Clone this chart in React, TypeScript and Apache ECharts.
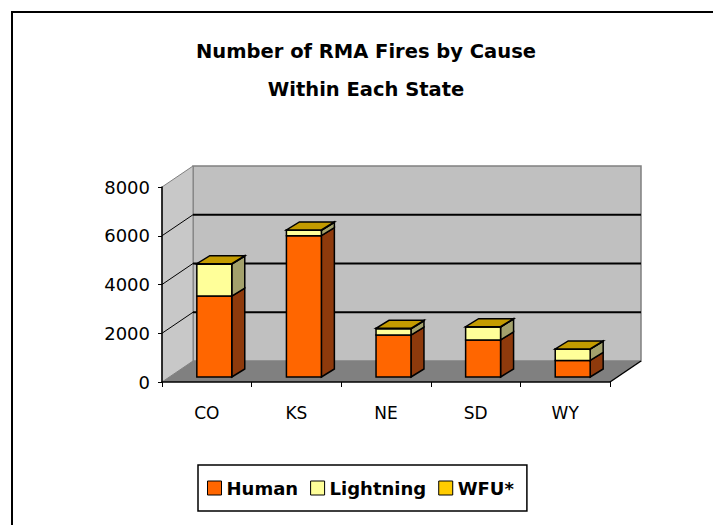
import React, { useEffect, useRef } from "react";
import * as echarts from "echarts";

const STATES = ["CO", "KS", "NE", "SD", "WY"];
const HUMAN = [3320, 5800, 1720, 1520, 680];
const LIGHTNING = [1310, 220, 260, 530, 460];
const WFU = [20, 15, 15, 15, 10];
const Y_TICKS = [0, 2000, 4000, 6000, 8000];
const SERIES_NAMES = ["Human", "Lightning", "WFU*"];
const SERIES_VALUES = [HUMAN, LIGHTNING, WFU];

const FACE = ["#FF6600", "#FFFF99", "#FFCC00"];
const SIDE = ["#8E3A0C", "#A3A16C", "#B08A00"];
const TOP = "#C39B00";

const FONT = "DejaVu Sans";
const WALL_DX = 31;
const WALL_DY = -21;
const BAR_DX = 13;
const BAR_DY = -8;
const BAR_SHIFT = 7.5;
const BAR_LIFT = 5;
const BAR_RATIO = 0.39;

function renderFrame(params: any, api: any) {
  const cs = params.coordSys;
  const x0 = cs.x;
  const x1 = cs.x + cs.width;
  const yT = cs.y;
  const yB = cs.y + cs.height;
  const children: any[] = [];
  children.push({
    type: "rect",
    shape: { x: x0 + WALL_DX, y: yT + WALL_DY, width: cs.width, height: cs.height },
    style: { fill: "#C0C0C0", stroke: "#808080", lineWidth: 1.5 },
  });
  children.push({
    type: "polygon",
    shape: { points: [[x0, yB], [x0, yT], [x0 + WALL_DX, yT + WALL_DY], [x0 + WALL_DX, yB + WALL_DY]] },
    style: { fill: "#C8C8C8", stroke: "#808080", lineWidth: 1 },
  });
  const maxV = Y_TICKS[Y_TICKS.length - 1];
  for (const v of Y_TICKS) {
    if (v === 0 || v === maxV) continue;
    const y = api.coord([0, v])[1];
    children.push({
      type: "line",
      shape: { x1: x0 + WALL_DX, y1: y + WALL_DY, x2: x1 + WALL_DX, y2: y + WALL_DY },
      style: { stroke: "#000", lineWidth: 2 },
    });
    children.push({
      type: "line",
      shape: { x1: x0, y1: y, x2: x0 + WALL_DX, y2: y + WALL_DY },
      style: { stroke: "#000", lineWidth: 1 },
    });
  }
  children.push({
    type: "polygon",
    shape: { points: [[x0, yB], [x1, yB], [x1 + WALL_DX, yB + WALL_DY], [x0 + WALL_DX, yB + WALL_DY]] },
    style: { fill: "#808080" },
  });
  children.push({
    type: "line",
    shape: { x1: x1, y1: yB, x2: x1 + WALL_DX, y2: yB + WALL_DY },
    style: { stroke: "#000", lineWidth: 1.5 },
  });
  return { type: "group", children };
}

function makeBarRender(s: number) {
  return (params: any, api: any) => {
    const i = api.value(0);
    const top = api.value(1);
    const base = api.value(2);
    const cx = api.coord([i, 0])[0] + BAR_SHIFT;
    const yB = api.coord([i, base])[1] - BAR_LIFT;
    const yT = api.coord([i, top])[1] - BAR_LIFT;
    const bw = api.size([1, 0])[0] * BAR_RATIO;
    const x0 = cx - bw / 2;
    const x1 = cx + bw / 2;
    const stroke = { stroke: "#000", lineWidth: 1.5, lineJoin: "miter" };
    const children: any[] = [
      {
        type: "polygon",
        shape: { points: [[x1, yB], [x1 + BAR_DX, yB + BAR_DY], [x1 + BAR_DX, yT + BAR_DY], [x1, yT]] },
        style: { fill: SIDE[s], ...stroke },
      },
      {
        type: "rect",
        shape: { x: x0, y: yT, width: bw, height: yB - yT },
        style: { fill: FACE[s], ...stroke },
      },
    ];
    if (s === SERIES_VALUES.length - 1) {
      children.push({
        type: "polygon",
        shape: { points: [[x0, yT], [x1, yT], [x1 + BAR_DX, yT + BAR_DY], [x0 + BAR_DX, yT + BAR_DY]] },
        style: { fill: TOP, ...stroke },
      });
    }
    return { type: "group", children };
  };
}

export default function App() {
  const ref = useRef<HTMLDivElement>(null);
  useEffect(() => {
    if (!ref.current) return;
    const chart = echarts.init(ref.current, null, { renderer: "svg" });
    const bases = STATES.map(() => 0);
    const barSeries = SERIES_VALUES.map((vals, s) => {
      const data = vals.map((v, i) => {
        const b = bases[i];
        bases[i] = b + v;
        return [i, b + v, b];
      });
      return {
        type: "custom",
        name: SERIES_NAMES[s],
        renderItem: makeBarRender(s),
        data,
        encode: { x: 0, y: 1 },
        itemStyle: { color: FACE[s] },
        z: 3 + s,
      };
    });
    chart.setOption({
      animation: false,
      backgroundColor: "#fff",
      title: {
        text: "Number of RMA Fires by Cause\nWithin Each State",
        left: 361,
        top: 27,
        textAlign: "center",
        textStyle: { fontFamily: FONT, fontWeight: "bold", fontSize: 19.5, lineHeight: 38, color: "#000" },
      },
      graphic: [
        {
          type: "rect",
          shape: { x: 12, y: 12, width: 740, height: 560 },
          style: { fill: "none", stroke: "#000", lineWidth: 2 },
          z: 100,
        },
      ],
      legend: {
        data: SERIES_NAMES,
        left: 198,
        top: 465,
        icon: "rect",
        itemWidth: 14,
        itemHeight: 14,
        itemGap: 12,
        padding: [14, 13, 14, 9],
        borderColor: "#000",
        borderWidth: 1.5,
        backgroundColor: "#fff",
        itemStyle: { borderColor: "#000", borderWidth: 1 },
        textStyle: { fontFamily: FONT, fontWeight: "bold", fontSize: 18, color: "#000" },
      },
      grid: { left: 162, top: 187, width: 448, height: 195 },
      xAxis: {
        type: "category",
        data: STATES,
        z: 10,
        axisLine: { lineStyle: { color: "#000", width: 1.5 } },
        axisTick: { show: true, length: 5, interval: 0, lineStyle: { color: "#000" } },
        axisLabel: { fontFamily: FONT, fontSize: 17, color: "#000", margin: 22 },
        splitLine: { show: false },
      },
      yAxis: {
        type: "value",
        min: 0,
        max: 8000,
        interval: 2000,
        z: 10,
        axisLine: { show: true, lineStyle: { color: "#000", width: 1.5 } },
        axisTick: { show: true, length: 4, lineStyle: { color: "#000" } },
        axisLabel: {
          fontFamily: FONT,
          fontSize: 18,
          color: "#000",
          margin: 12,
          formatter: (v: number) => String(v),
        },
        splitLine: { show: false },
      },
      series: [
        {
          type: "custom",
          renderItem: renderFrame,
          data: [[0, 0]],
          encode: { x: 0, y: 1 },
          z: 1,
          silent: true,
        },
        ...barSeries,
      ],
    });
    return () => chart.dispose();
  }, []);
  return <div ref={ref} style={{ position: "absolute", left: 0, top: 0, width: 713, height: 525 }} />;
}
